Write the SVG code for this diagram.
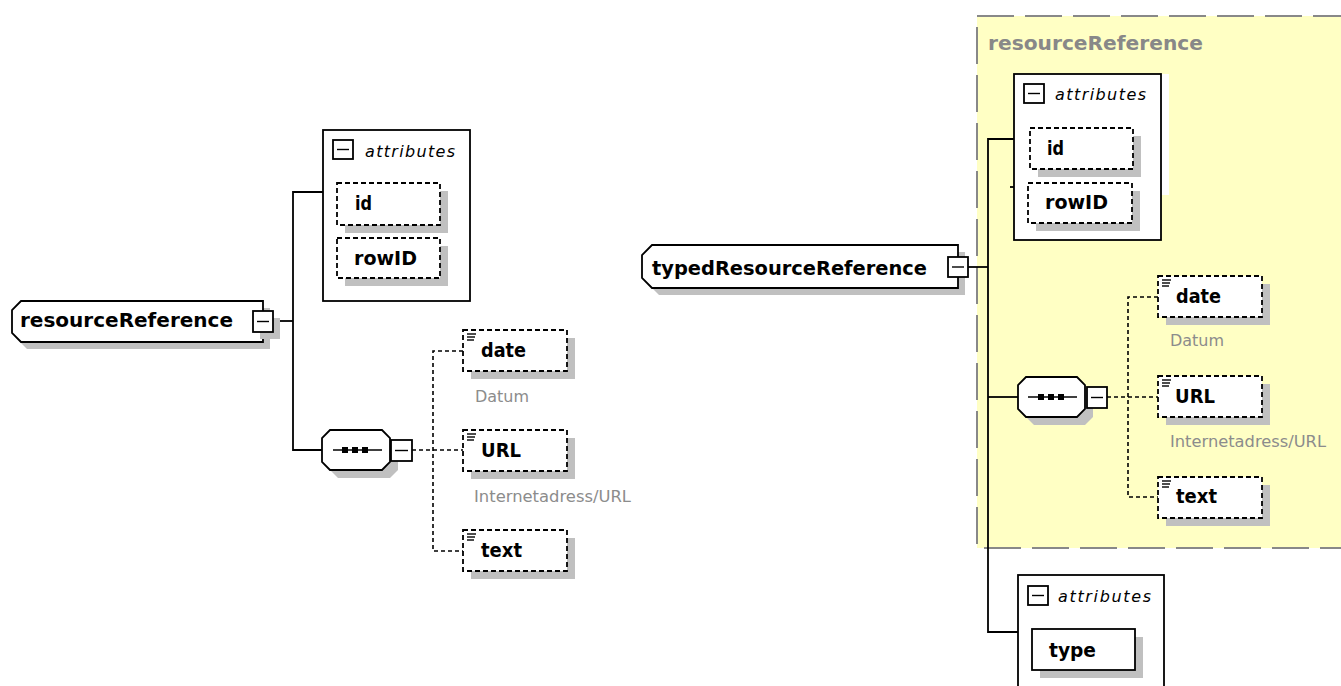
<svg xmlns="http://www.w3.org/2000/svg" width="1341" height="686" viewBox="0 0 1341 686">
<style>
.b{font-family:"DejaVu Sans","Liberation Sans",sans-serif;font-weight:bold;font-size:19.5px;fill:#000}
.g{font-family:"DejaVu Sans","Liberation Sans",sans-serif;font-weight:bold;font-size:19px;fill:#888}
.d{font-family:"DejaVu Sans","Liberation Sans",sans-serif;font-size:15px;fill:#8c8c8c}
.a{font-family:"DejaVu Sans","Liberation Sans",sans-serif;font-style:italic;font-size:16px;fill:#000}
.sh{fill:#c0c0c0;stroke:none}
.box{fill:#fff;stroke:#000;stroke-width:1.8}
.dbox{fill:#fff;stroke:#000;stroke-width:1.8;stroke-dasharray:5 3}
.ln{fill:none;stroke:#000;stroke-width:1.8}
.dl{fill:none;stroke:#000;stroke-width:1.6;stroke-dasharray:4 3}
.ic{stroke:#000;stroke-width:1.4}
</style>
<rect width="1341" height="686" fill="#fff"/>

<g id="yellow-group">
<rect x="977" y="16" width="380" height="532" fill="#ffffc4" stroke="#888" stroke-width="2" stroke-dasharray="37 11"/>
<text class="g" x="988" y="50" textLength="215" lengthAdjust="spacingAndGlyphs">resourceReference</text>
</g>

<g id="connectors">
<polyline class="ln" points="273,321 293,321"/>
<polyline class="ln" points="323,192 293,192 293,450 322,450"/>
<polyline class="dl" points="412,450 463,450"/>
<polyline class="dl" points="463,351 433,351 433,551 463,551"/>
<polyline class="ln" points="968,267 988,267"/>
<polyline class="ln" points="1014,139 988,139 988,632 1018,632"/>
<polyline class="ln" points="988,397 1018,397"/>
<line class="ln" x1="1010" y1="187" x2="1014" y2="187"/>
<polyline class="dl" points="1107,397 1158,397"/>
<polyline class="dl" points="1158,297 1128,297 1128,497 1158,497"/>
</g>

<g id="resourceReference">
<path class="sh" d="M27,308 L270,308 L270,349 L27,349 L19,341 L19,316 Z"/>
<path class="box" d="M21,301 L263,301 L263,342 L21,342 L12,333 L12,310 Z"/>
<text class="b" x="20" y="327" textLength="213" lengthAdjust="spacingAndGlyphs">resourceReference</text>
<rect class="sh" x="260" y="318" width="20" height="21"/>
<rect class="box" x="253" y="311" width="20" height="21"/>
<line class="ic" x1="257" y1="321.5" x2="269" y2="321.5"/>
</g>

<g id="attributes-left">
<rect class="box" x="323" y="130" width="147" height="171"/>
<rect class="box" x="333" y="140" width="20" height="19" stroke-width="1.4"/>
<line class="ic" x1="337" y1="149.5" x2="349" y2="149.5"/>
<text class="a" x="365" y="157" textLength="90" lengthAdjust="spacing">attributes</text>
<rect class="sh" x="345" y="191" width="103" height="42"/>
<rect class="dbox" x="337" y="183" width="103" height="42"/>
<text class="b" x="355" y="210" textLength="17" lengthAdjust="spacingAndGlyphs">id</text>
<rect class="sh" x="345" y="246" width="103" height="40"/>
<rect class="dbox" x="337" y="238" width="103" height="40"/>
<text class="b" x="354" y="265" textLength="63" lengthAdjust="spacingAndGlyphs">rowID</text>
</g>

<g id="sequence-left">
<path class="sh" d="M338,438 L390,438 L398,446 L398,470 L390,478 L338,478 L330,470 L330,446 Z"/>
<path class="box" d="M330,430 L382,430 L390,438 L390,462 L382,470 L330,470 L322,462 L322,438 Z"/>
<line class="ic" x1="333" y1="450" x2="382" y2="450"/>
<rect x="342" y="447" width="6" height="6" fill="#000"/>
<rect x="352" y="447" width="6" height="6" fill="#000"/>
<rect x="362" y="447" width="6" height="6" fill="#000"/>
<rect class="box" x="391" y="440" width="21" height="21"/>
<line class="ic" x1="395" y1="450.5" x2="408" y2="450.5"/>
</g>

<g id="date-left">
<rect class="sh" x="471" y="338" width="104" height="41"/>
<rect class="dbox" x="463" y="330" width="104" height="41"/>
<line class="ic" x1="467" y1="334" x2="476" y2="334"/><line class="ic" x1="467" y1="337" x2="475" y2="337"/><line class="ic" x1="467" y1="340" x2="474" y2="340"/>
<text class="b" x="481" y="357" textLength="45" lengthAdjust="spacingAndGlyphs">date</text>
<text class="d" x="475" y="402" textLength="54" lengthAdjust="spacingAndGlyphs">Datum</text>
</g>

<g id="URL-left">
<rect class="sh" x="471" y="438" width="104" height="41"/>
<rect class="dbox" x="463" y="430" width="104" height="41"/>
<line class="ic" x1="467" y1="434" x2="476" y2="434"/><line class="ic" x1="467" y1="437" x2="475" y2="437"/><line class="ic" x1="467" y1="440" x2="474" y2="440"/>
<text class="b" x="481" y="457" textLength="40" lengthAdjust="spacingAndGlyphs">URL</text>
<text class="d" x="474" y="502" textLength="157" lengthAdjust="spacingAndGlyphs">Internetadress/URL</text>
</g>

<g id="text-left">
<rect class="sh" x="471" y="538" width="104" height="41"/>
<rect class="dbox" x="463" y="530" width="104" height="41"/>
<line class="ic" x1="467" y1="534" x2="476" y2="534"/><line class="ic" x1="467" y1="537" x2="475" y2="537"/><line class="ic" x1="467" y1="540" x2="474" y2="540"/>
<text class="b" x="481" y="557" textLength="41" lengthAdjust="spacingAndGlyphs">text</text>
</g>

<g id="typedResourceReference">
<path class="sh" d="M659,252 L965,252 L965,295 L659,295 L649,285 L649,262 Z"/>
<path class="box" d="M652,245 L958,245 L958,288 L652,288 L642,278 L642,255 Z"/>
<text class="b" x="652" y="275" textLength="275" lengthAdjust="spacingAndGlyphs">typedResourceReference</text>
<rect class="box" x="948" y="257" width="20" height="20"/>
<line class="ic" x1="952" y1="267" x2="964" y2="267"/>
</g>

<g id="attributes-right">
<rect x="1161" y="74" width="8" height="121" fill="#fff"/>
<rect class="box" x="1014" y="74" width="147" height="166"/>
<rect class="box" x="1024" y="84" width="20" height="19" stroke-width="1.4"/>
<line class="ic" x1="1028" y1="93.5" x2="1040" y2="93.5"/>
<text class="a" x="1055" y="100" textLength="91" lengthAdjust="spacing">attributes</text>
<rect class="sh" x="1038" y="136" width="103" height="41"/>
<rect class="dbox" x="1030" y="128" width="103" height="41"/>
<text class="b" x="1047" y="155" textLength="17" lengthAdjust="spacingAndGlyphs">id</text>
<rect class="sh" x="1036" y="191" width="104" height="40"/>
<rect class="dbox" x="1028" y="183" width="104" height="40"/>
<text class="b" x="1045" y="209" textLength="63" lengthAdjust="spacingAndGlyphs">rowID</text>
</g>

<g id="sequence-right">
<path class="sh" d="M1034,385 L1085,385 L1093,393 L1093,417 L1085,425 L1034,425 L1026,417 L1026,393 Z"/>
<path class="box" d="M1026,377 L1077,377 L1085,385 L1085,409 L1077,417 L1026,417 L1018,409 L1018,385 Z"/>
<line class="ic" x1="1028" y1="397" x2="1077" y2="397"/>
<rect x="1038" y="394" width="6" height="6" fill="#000"/>
<rect x="1048" y="394" width="6" height="6" fill="#000"/>
<rect x="1058" y="394" width="6" height="6" fill="#000"/>
<rect class="box" x="1087" y="387" width="20" height="21"/>
<line class="ic" x1="1091" y1="397.5" x2="1103" y2="397.5"/>
</g>

<g id="date-right">
<rect class="sh" x="1166" y="284" width="104" height="41"/>
<rect class="dbox" x="1158" y="276" width="104" height="41"/>
<line class="ic" x1="1162" y1="280" x2="1171" y2="280"/><line class="ic" x1="1162" y1="283" x2="1170" y2="283"/><line class="ic" x1="1162" y1="286" x2="1169" y2="286"/>
<text class="b" x="1176" y="303" textLength="45" lengthAdjust="spacingAndGlyphs">date</text>
<text class="d" x="1170" y="346" textLength="54" lengthAdjust="spacingAndGlyphs">Datum</text>
</g>

<g id="URL-right">
<rect class="sh" x="1166" y="384" width="104" height="41"/>
<rect class="dbox" x="1158" y="376" width="104" height="41"/>
<line class="ic" x1="1162" y1="380" x2="1171" y2="380"/><line class="ic" x1="1162" y1="383" x2="1170" y2="383"/><line class="ic" x1="1162" y1="386" x2="1169" y2="386"/>
<text class="b" x="1175" y="403" textLength="40" lengthAdjust="spacingAndGlyphs">URL</text>
<text class="d" x="1170" y="447" textLength="156" lengthAdjust="spacingAndGlyphs">Internetadress/URL</text>
</g>

<g id="text-right">
<rect class="sh" x="1166" y="485" width="104" height="41"/>
<rect class="dbox" x="1158" y="477" width="104" height="41"/>
<line class="ic" x1="1162" y1="481" x2="1171" y2="481"/><line class="ic" x1="1162" y1="484" x2="1170" y2="484"/><line class="ic" x1="1162" y1="487" x2="1169" y2="487"/>
<text class="b" x="1176" y="503" textLength="41" lengthAdjust="spacingAndGlyphs">text</text>
</g>

<g id="attributes-type">
<rect class="box" x="1018" y="575" width="146" height="130"/>
<rect class="box" x="1028" y="586" width="20" height="19" stroke-width="1.4"/>
<line class="ic" x1="1032" y1="595.5" x2="1044" y2="595.5"/>
<text class="a" x="1058" y="602" textLength="93" lengthAdjust="spacing">attributes</text>
<rect class="sh" x="1040" y="637" width="103" height="41"/>
<rect class="box" x="1032" y="629" width="103" height="41"/>
<text class="b" x="1049" y="657" textLength="47" lengthAdjust="spacingAndGlyphs">type</text>
</g>
</svg>
